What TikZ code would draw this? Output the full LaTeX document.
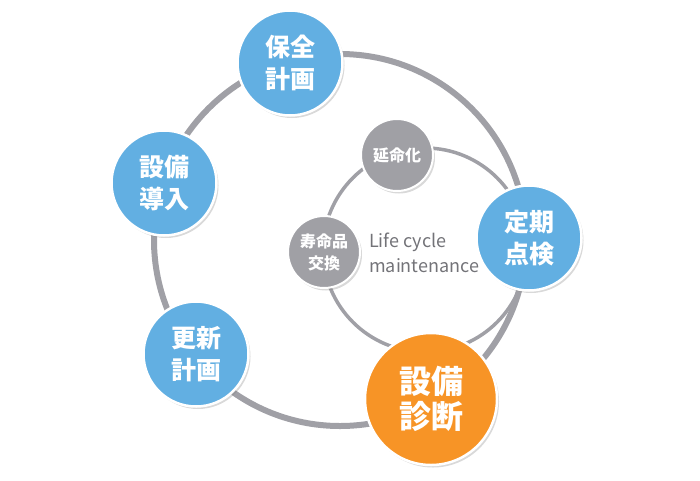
\documentclass[tikz,border=0pt]{standalone}
\usepackage{fontspec}
\newfontfamily\jp{Noto Sans CJK JP}
\usetikzlibrary{shadows, backgrounds, positioning}
\definecolor{ringgray}{RGB}{160,160,166}
\definecolor{stageblue}{RGB}{98,175,226}
\definecolor{stageorange}{RGB}{247,148,38}
\definecolor{subgray}{RGB}{160,160,165}
\definecolor{labelgray}{RGB}{115,115,120}
\tikzset{
	stage/.style = {circle, draw = white, line width = 2.5pt, fill = stageblue, text = white, minimum size = 105pt, inner sep = 0pt, align = center,
		drop shadow = {opacity = 0.3, shadow xshift = 2pt, shadow yshift = -2.5pt},
		font = \jp\bfseries\fontsize{25}{32}\selectfont},
	focus/.style = {stage, fill = stageorange, minimum size = 132pt, font = \jp\bfseries\fontsize{32}{35}\selectfont},
	substage/.style = {stage, fill = subgray, minimum size = 72pt, line width = 2pt, font = \jp\bfseries\fontsize{16}{22}\selectfont},
	ring/.style = {draw = ringgray, line width = 6pt},
	innerring/.style = {draw = ringgray, line width = 3.5pt}
}

\begin{document}
\begin{tikzpicture}[x = 1pt, y = -1pt]
		\useasboundingbox (0, 0) rectangle (700, 480);
		\coordinate (O) at (340, 240);
		\coordinate (I) at (425, 250);
		\draw [ring] (O) circle [radius = 186];
		\draw [innerring] (I) circle [radius = 102];

		\node [stage] (hozen) at (290, 63) {保全\\計画};
		\node [stage] (donyu) at (164, 183) {設備\\導入};
		\node [stage] (koshin) at (196, 354) {更新\\計画};
		\node [stage] (tenken) at (529, 238) {定期\\点検};
		\node [focus] (shindan) at (431, 399) {設備\\診断};
		\node [substage] (enmei) at (397, 155) {延命化};
		\node [substage] (kokan) at (324, 252) {寿命品\\交換};

		\node [right = 8pt of kokan, yshift = -1pt, align = left, text = labelgray, inner sep = 0pt, font = \jp\fontsize{18}{25}\selectfont] (lcm) {Life cycle\\maintenance};
	\end{tikzpicture}
\end{document}
